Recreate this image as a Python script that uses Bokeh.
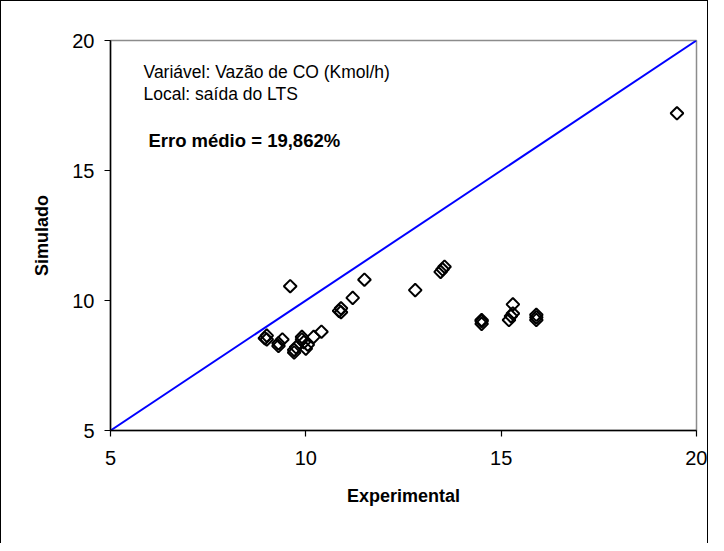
import math
from bokeh.plotting import figure
from bokeh.models import Label, FixedTicker, Range1d
from bokeh.embed import file_html
from bokeh.resources import INLINE

# Data
experimental = [8.95, 9.0, 9.0, 9.3, 9.3, 9.4, 9.6, 9.7, 9.75, 9.7, 9.9, 9.9, 9.95,
                10.0, 10.05, 10.2, 10.4, 10.85, 10.9, 10.9, 11.2, 11.5, 12.8,
                13.45, 13.5, 13.55, 14.5, 14.5, 14.5, 15.2, 15.25, 15.3, 15.3,
                15.9, 15.9, 15.9, 19.5]
simulado = [8.55, 8.65, 8.5, 8.35, 8.25, 8.5, 10.55, 8.1, 8.2, 8.0, 8.5, 8.6, 8.4,
            8.15, 8.3, 8.6, 8.8, 9.6, 9.7, 9.55, 10.1, 10.8, 10.4,
            11.1, 11.2, 11.3, 9.1, 9.25, 9.2, 9.25, 9.4, 9.5, 9.85,
            9.25, 9.35, 9.45, 17.2]
identity = [5, 20]
ticks = [5, 10, 15, 20]

p = figure(width=708, height=543, output_backend="svg", toolbar_location=None,
           x_range=Range1d(5, 20), y_range=Range1d(5, 20),
           min_border_left=109, min_border_right=13, min_border_top=39,
           min_border_bottom=114)
p.styles = {"border-left": "1px solid black", "border-top": "1px solid black",
            "border-right": "1px solid black", "box-sizing": "border-box"}
p.background_fill_color = "white"
p.border_fill_color = "white"
p.outline_line_color = "#8c8c8c"
p.outline_line_width = 1.5
p.xgrid.visible = False
p.ygrid.visible = False

for ax in (p.xaxis[0], p.yaxis[0]):
    ax.ticker = FixedTicker(ticks=ticks)
    ax.axis_line_color = "black"
    ax.axis_line_width = 1.5
    ax.major_tick_line_color = "black"
    ax.major_tick_line_width = 1.2
    ax.major_tick_out = 6
    ax.major_tick_in = 0
    ax.minor_tick_line_color = None
    ax.major_label_text_font = "Liberation Sans"
    ax.major_label_text_font_size = "20px"
    ax.major_label_text_color = "black"
    ax.axis_label_text_font = "Liberation Sans"
    ax.axis_label_text_font_size = "18px"
    ax.axis_label_text_font_style = "bold"
    ax.axis_label_text_color = "black"

p.xaxis.axis_label = "Experimental"
p.yaxis.axis_label = "Simulado"
p.xaxis.major_label_standoff = 14
p.yaxis.major_label_standoff = 10
p.xaxis.axis_label_standoff = 18
p.yaxis.axis_label_standoff = 17

p.line(identity, identity, line_color="#0000ff", line_width=2)
p.scatter(experimental, simulado, marker="square", size=9, angle=math.pi / 4,
          fill_color=None, line_color="black", line_width=2)

p.add_layout(Label(x=5.845, y=18.8, text="Variável: Vazão de CO (Kmol/h)",
                   text_font="Liberation Sans", text_font_size="17.5px",
                   text_baseline="middle", text_color="black"))
p.add_layout(Label(x=5.845, y=17.95, text="Local: saída do LTS",
                   text_font="Liberation Sans", text_font_size="17.5px",
                   text_baseline="middle", text_color="black"))
p.add_layout(Label(x=5.97, y=16.15, text="Erro médio = 19,862%",
                   text_font="Liberation Sans", text_font_size="18.5px",
                   text_font_style="bold", text_baseline="middle", text_color="black"))

open("out.html", "w").write(file_html(p, INLINE))
